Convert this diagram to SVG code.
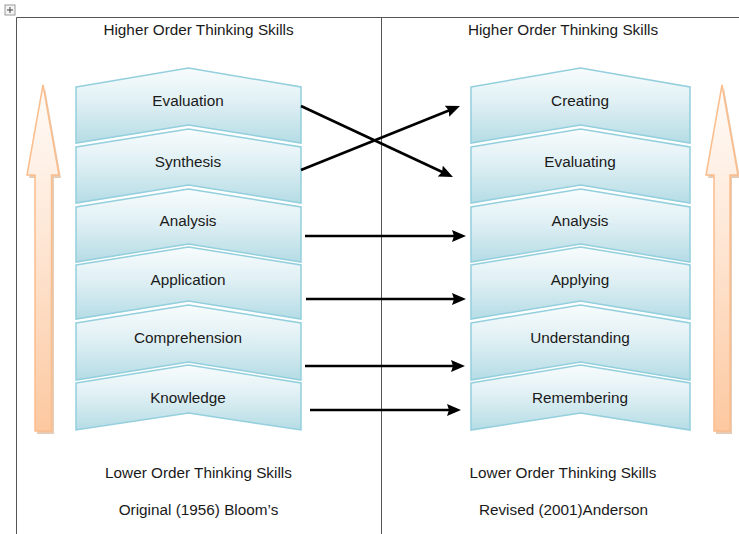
<svg xmlns="http://www.w3.org/2000/svg" width="739" height="534" viewBox="0 0 739 534">
  <style>
    .lbl { font-family: "Liberation Sans", Arial, sans-serif; font-size: 15.3px; fill: #1a1a1a; text-anchor: middle; }
    .chev { fill: url(#chevGrad); stroke: #93cfdd; stroke-width: 1.5; stroke-linejoin: miter; }
    .frame { stroke: #555555; stroke-width: 1; fill: none; }
    .conn { stroke: #000000; stroke-width: 2.6; fill: none; marker-end: url(#ah); }
    .big { fill: url(#bigGrad); stroke: #fbbd8c; stroke-width: 1.5; }
    .bigShadow { fill: #d2a078; opacity: 0.55; }
  </style>
  <defs>
    <linearGradient id="chevGrad" x1="0" y1="0" x2="0" y2="1">
      <stop offset="0" stop-color="#f8fcfd"/>
      <stop offset="0.45" stop-color="#e0f0f4"/>
      <stop offset="1" stop-color="#b5dce5"/>
    </linearGradient>
    <linearGradient id="bigGrad" x1="0" y1="0" x2="0" y2="1">
      <stop offset="0" stop-color="#fffbf8"/>
      <stop offset="0.4" stop-color="#fee9d9"/>
      <stop offset="1" stop-color="#fcc8a0"/>
    </linearGradient>
    <marker id="ah" markerUnits="userSpaceOnUse" markerWidth="16" markerHeight="14" refX="4" refY="6" orient="auto">
      <path d="M0,0 L14,6 L0,12 L2,6 Z" fill="#000000"/>
    </marker>
  </defs>

  <!-- frame -->
  <g id="frame">
    <rect x="5" y="5" width="10" height="10" fill="#f4f4f4" stroke="#999999" stroke-width="1"/>
    <path d="M10,7 V13 M7,10 H13" stroke="#444444" stroke-width="1"/>
    <path class="frame" d="M16.5,534 V17.5 H739"/>
    <path class="frame" d="M381.5,17.5 V534"/>
  </g>

  <!-- headings -->
  <g id="headings">
    <text class="lbl" x="198.5" y="35">Higher Order Thinking Skills</text>
    <text class="lbl" x="563" y="35">Higher Order Thinking Skills</text>
    <text class="lbl" x="198.5" y="478">Lower Order Thinking Skills</text>
    <text class="lbl" x="563" y="478">Lower Order Thinking Skills</text>
    <text class="lbl" x="198.5" y="515">Original (1956) Bloom’s</text>
    <text class="lbl" x="563.5" y="515">Revised (2001)Anderson</text>
  </g>

  <!-- big arrows -->
  <g id="bigArrowLeft">
    <path class="bigShadow" d="M45,88 L61,178 L54,178 L54,434 L37,434 L37,178 L29,178 Z"/>
    <path class="big" d="M43,85 L59,175 L51.5,175 L51.5,431 L35,431 L35,175 L27,175 Z"/>
  </g>
  <g id="bigArrowRight">
    <path class="bigShadow" d="M724,88 L740,178 L732,178 L732,434 L716,434 L716,178 L708,178 Z"/>
    <path class="big" d="M722,85 L738,175 L730,175 L730,431 L714,431 L714,175 L706,175 Z"/>
  </g>

  <!-- left column chevrons -->
  <g id="evaluation">
    <path class="chev" d="M76,87 L188.5,68 L301,87 L301,143 L188.5,125 L76,143 Z"/>
    <text class="lbl" x="188" y="105.5">Evaluation</text>
  </g>
  <g id="synthesis">
    <path class="chev" d="M76,147 L188.5,129 L301,147 L301,203 L188.5,185 L76,203 Z"/>
    <text class="lbl" x="188" y="166.5">Synthesis</text>
  </g>
  <g id="analysis-left">
    <path class="chev" d="M76,207 L188.5,189 L301,207 L301,262 L188.5,244 L76,262 Z"/>
    <text class="lbl" x="188" y="225.5">Analysis</text>
  </g>
  <g id="application">
    <path class="chev" d="M76,265 L188.5,247 L301,265 L301,319 L188.5,301 L76,319 Z"/>
    <text class="lbl" x="188" y="284.5">Application</text>
  </g>
  <g id="comprehension">
    <path class="chev" d="M76,323 L188.5,305 L301,323 L301,380 L188.5,362 L76,380 Z"/>
    <text class="lbl" x="188" y="342.5">Comprehension</text>
  </g>
  <g id="knowledge">
    <path class="chev" d="M76,383 L188.5,365 L301,383 L301,430 L188.5,413 L76,430 Z"/>
    <text class="lbl" x="188" y="402.5">Knowledge</text>
  </g>

  <!-- right column chevrons -->
  <g id="creating">
    <path class="chev" d="M471,87 L580.5,68 L690,87 L690,143 L580.5,125 L471,143 Z"/>
    <text class="lbl" x="580" y="105.5">Creating</text>
  </g>
  <g id="evaluating">
    <path class="chev" d="M471,147 L580.5,129 L690,147 L690,203 L580.5,185 L471,203 Z"/>
    <text class="lbl" x="580" y="166.5">Evaluating</text>
  </g>
  <g id="analysis-right">
    <path class="chev" d="M471,207 L580.5,189 L690,207 L690,262 L580.5,244 L471,262 Z"/>
    <text class="lbl" x="580" y="225.5">Analysis</text>
  </g>
  <g id="applying">
    <path class="chev" d="M471,265 L580.5,247 L690,265 L690,319 L580.5,301 L471,319 Z"/>
    <text class="lbl" x="580" y="284.5">Applying</text>
  </g>
  <g id="understanding">
    <path class="chev" d="M471,323 L580.5,305 L690,323 L690,380 L580.5,362 L471,380 Z"/>
    <text class="lbl" x="580" y="342.5">Understanding</text>
  </g>
  <g id="remembering">
    <path class="chev" d="M471,383 L580.5,365 L690,383 L690,430 L580.5,413 L471,430 Z"/>
    <text class="lbl" x="580" y="402.5">Remembering</text>
  </g>

  <!-- connectors -->
  <g id="connectors">
    <line class="conn" x1="301" y1="106" x2="443.9" y2="172.8"/>
    <line class="conn" x1="301" y1="170" x2="450.7" y2="109.7"/>
    <line class="conn" x1="305" y1="236" x2="456" y2="236"/>
    <line class="conn" x1="306" y1="299" x2="456" y2="299"/>
    <line class="conn" x1="305" y1="366" x2="455" y2="366"/>
    <line class="conn" x1="310" y1="410" x2="451" y2="410"/>
  </g>
</svg>
